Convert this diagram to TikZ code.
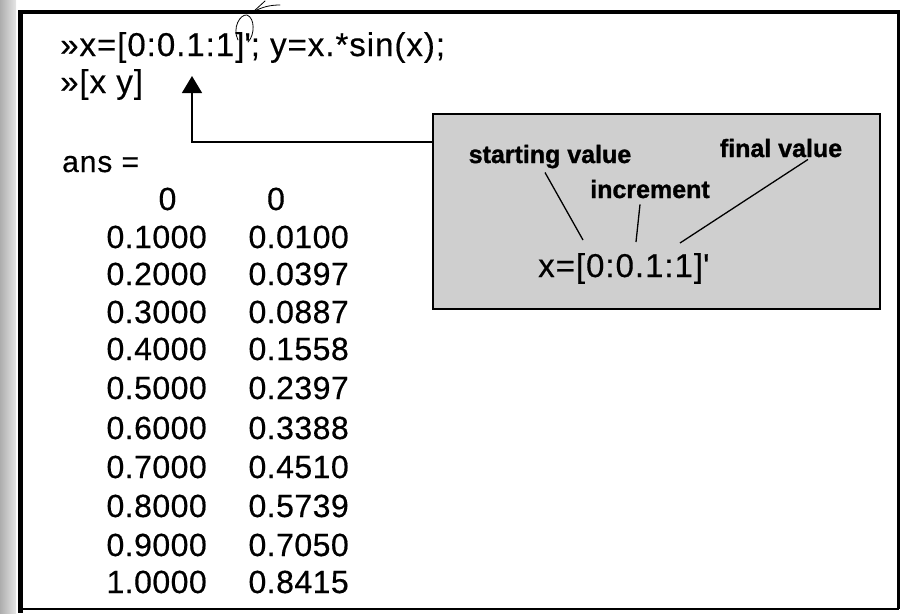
\documentclass[tikz,border=0pt]{standalone}
\usepackage{fontspec}
\usetikzlibrary{arrows.meta}
\setmainfont{Liberation Sans}[FakeBold=0.4, BoldFeatures={FakeBold=1.2}]
\newfontfamily\codefont[LetterSpace=3, FakeBold=0.4]{Liberation Sans}
\newfontfamily\numfont[LetterSpace=1.5, FakeBold=0.45]{Liberation Sans}
\tikzset{
  code/.style={inner sep=0pt, anchor=base west, font=\codefont\fontsize{33}{33}\selectfont},
  num/.style={inner sep=0pt, anchor=base east, font=\numfont\fontsize{32}{32}\selectfont},
  numc/.style={num, anchor=base},
  tag/.style={inner sep=0pt, anchor=base, font=\bfseries\fontsize{25}{25}\selectfont},
  callout/.style={draw, line width=1.5pt, fill=black!19, inner sep=0pt},
  pointer/.style={line width=1.3pt},
  pen/.style={line width=0.8pt, line cap=round},
}
\begin{document}
\begin{tikzpicture}[x=1pt,y=-1pt]
\useasboundingbox (0,0) rectangle (904,613);
% scanned page edge on the left
\shade[left color=black!32, right color=black!10] (0,0) rectangle (16,613);
% window frame
\draw[line width=5pt] (20,10) -- (20,613);
\draw[line width=4pt] (18,12) -- (900,12);
\draw[line width=3pt] (898,11) -- (898,609);
\draw[line width=2pt] (20,609) -- (899,609);

% command lines
\node[code] (cmd1) at (60,56) {»x=[0:0.1:1]\textquotesingle; y=x.*sin(x);};
\node[code] (cmd2) at (60,93) {»[x y]};
\node[code, font=\codefont\fontsize{30}{30}\selectfont] (ans) at (62,172) {ans =};

% result table
\node[numc] (r0a) at (167.5,210) {0};
\node[numc] (r0b) at (276,210) {0};
\foreach \i/\a/\b/\y in {1/0.1000/0.0100/248, 2/0.2000/0.0397/285,
    3/0.3000/0.0887/323, 4/0.4000/0.1558/360, 5/0.5000/0.2397/399,
    6/0.6000/0.3388/439, 7/0.7000/0.4510/478, 8/0.8000/0.5739/517,
    9/0.9000/0.7050/556, 10/1.0000/0.8415/593}{
  \node[num] (r\i a) at (207,\y) {\a};
  \node[num] (r\i b) at (349,\y) {\b};
}

% callout explaining the colon notation
\node[callout, minimum width=447pt, minimum height=195pt, anchor=north west] (box) at (432,113) {};
\node[tag] (start) at (550,163) {starting value};
\node[tag] (final) at (781,157) {final value};
\node[tag] (incr) at (650,198) {increment};
\node[code] (expr) at (538,277) {x=[0:0.1:1]\textquotesingle};
\coordinate (p0) at (583,240);
\coordinate (p1) at (636,242);
\coordinate (p2) at (680,243);
\draw[pointer] (start.south) ++(-5,4) -- (p0);
\draw[pointer] (incr.south) ++(-10,6) -- (p1);
\draw[pointer] (final.south) ++(27,2) -- (p2);

% arrow from the callout up to the colon expression
\coordinate (tip) at (192,76);
\coordinate (bend) at (192,142);
\draw[line width=1.5pt, -{Triangle[length=17pt,width=20pt]}]
  (bend -| box.west) -- (bend) -- (tip);

% pen marks around the transpose quote
\draw[pen] (238,40) .. controls (232,28) and (240,14) .. (247,15)
  .. controls (255,18) and (255,35) .. (248,42);
\draw[pen] (253,12) -- (265,1);
\draw[pen] (253,12) .. controls (262,7) and (270,5) .. (280,5);
\end{tikzpicture}
\end{document}
